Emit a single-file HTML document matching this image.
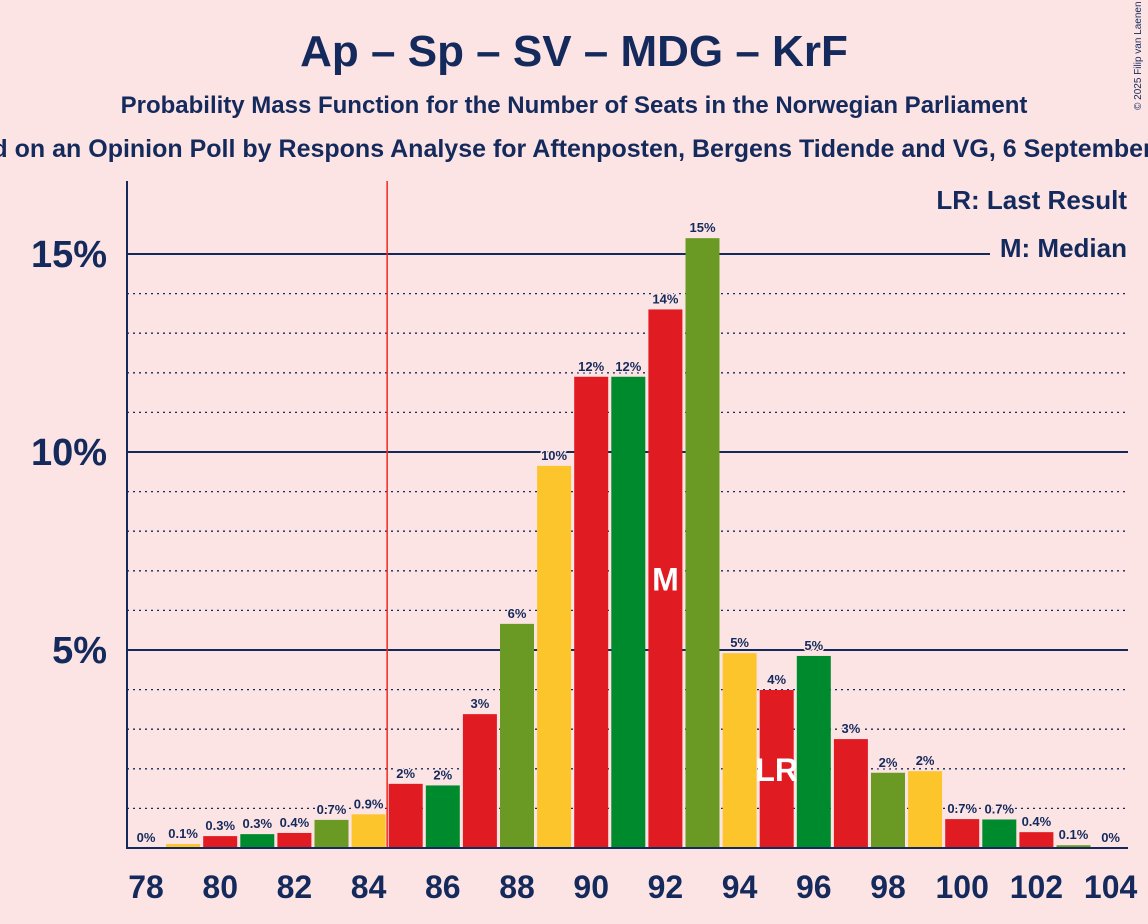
<!DOCTYPE html>
<html><head><meta charset="utf-8"><style>
body{margin:0;background:#fde4e4;}
svg{display:block;font-family:"Liberation Sans",sans-serif;}
</style></head><body>
<svg width="1148" height="924" viewBox="0 0 1148 924">
<rect width="1148" height="924" fill="#fde4e4"/>
<text x="574" y="66" text-anchor="middle" font-size="44" font-weight="bold" fill="#142a5c">Ap – Sp – SV – MDG – KrF</text>
<text x="574" y="113" text-anchor="middle" font-size="24" font-weight="bold" fill="#142a5c">Probability Mass Function for the Number of Seats in the Norwegian Parliament</text>
<text x="574" y="157" text-anchor="middle" font-size="25" font-weight="bold" fill="#142a5c">Based on an Opinion Poll by Respons Analyse for Aftenposten, Bergens Tidende and VG, 6 September 2025</text>
<text x="1141" y="110" font-size="10" fill="#142a5c" transform="rotate(-90 1141 110)">© 2025 Filip van Laenen</text>
<g id="grid"></g>
<g id="bars"></g>
<g id="axes"></g>
<rect x="990" y="238" width="140" height="30" fill="#fde4e4"/>
<text x="1127" y="209" text-anchor="end" font-size="26" font-weight="bold" fill="#142a5c">LR: Last Result</text>
<text x="1127" y="257" text-anchor="end" font-size="26" font-weight="bold" fill="#142a5c">M: Median</text>
</svg>
<script>
const seats=[78,79,80,81,82,83,84,85,86,87,88,89,90,91,92,93,94,95,96,97,98,99,100,101,102,103,104];
const probs=[0,0.1,0.3,0.35,0.38,0.71,0.85,1.62,1.58,3.38,5.66,9.65,11.9,11.9,13.6,15.4,4.92,3.99,4.85,2.75,1.9,1.94,0.73,0.72,0.4,0.07,0];
const labels=["0%","0.1%","0.3%","0.3%","0.4%","0.7%","0.9%","2%","2%","3%","6%","10%","12%","12%","14%","15%","5%","4%","5%","3%","2%","2%","0.7%","0.7%","0.4%","0.1%","0%"];
const yTicks=[5,10,15];
const xTicks=[78,80,82,84,86,88,90,92,94,96,98,100,102,104];
const median=92, lastResult=95;
const colors=["#6a9a23","#fdc52c","#e01b22","#008a2e","#e01b22"];
const NS="http://www.w3.org/2000/svg";
const x=s=>146+(s-78)*37.1;
const y=p=>848-p*39.6;
function mk(tag,attrs,parent){const e=document.createElementNS(NS,tag);for(const k in attrs)e.setAttribute(k,attrs[k]);parent.appendChild(e);return e;}
const grid=document.getElementById('grid'),bars=document.getElementById('bars'),axes=document.getElementById('axes');
for(let p=1;p<=15;p++){
  const solid=p%5===0;
  const l=mk('line',{x1:127,x2:1128,y1:y(p),y2:y(p),stroke:'#142a5c','stroke-width':solid?2:1.3,'stroke-dasharray':solid?'':'2,4'},grid);
  
  
}
yTicks.forEach(t=>{
  const tx=mk('text',{x:107,y:y(t)+13,'text-anchor':'end','font-size':38,'font-weight':'bold',fill:'#142a5c'},axes);
  tx.textContent=t+'%';
  
  
});
seats.forEach((s,i)=>{
  const col=colors[(s-78)%5];
  const r=mk('rect',{x:x(s)-17,y:y(probs[i]),width:34,height:848-y(probs[i]),fill:col},bars);
  
  
  const t=mk('text',{x:x(s),y:y(probs[i])-6,'text-anchor':'middle','font-size':13,'font-weight':'bold',fill:'#142a5c',stroke:'#fde4e4','stroke-width':3,'paint-order':'stroke'},bars);
  t.textContent=labels[i];
  
  
  if(s===median){const m=mk('text',{x:x(s),y:y(probs[i]/2)+12,'text-anchor':'middle','font-size':32,'font-weight':'bold',fill:'#fff'},bars);m.textContent='M';
    
    }
  if(s===lastResult){const m=mk('text',{x:x(s),y:y(probs[i]/2)+12,'text-anchor':'middle','font-size':32,'font-weight':'bold',fill:'#fff'},bars);m.textContent='LR';
    
    }
});
const rl=mk('line',{x1:(x(84)+x(85))/2,x2:(x(84)+x(85))/2,y1:181,y2:848,stroke:'#f0281e','stroke-width':1.5},axes);


const ya=mk('line',{x1:127,x2:127,y1:181,y2:849,stroke:'#142a5c','stroke-width':2},axes);


const xa=mk('line',{x1:127,x2:1128,y1:848,y2:848,stroke:'#142a5c','stroke-width':2},axes);


xTicks.forEach(s=>{
  const t=mk('text',{x:x(s),y:898,'text-anchor':'middle','font-size':32,'font-weight':'bold',fill:'#142a5c'},axes);
  t.textContent=s;
  
  
});
</script>
</body></html>
